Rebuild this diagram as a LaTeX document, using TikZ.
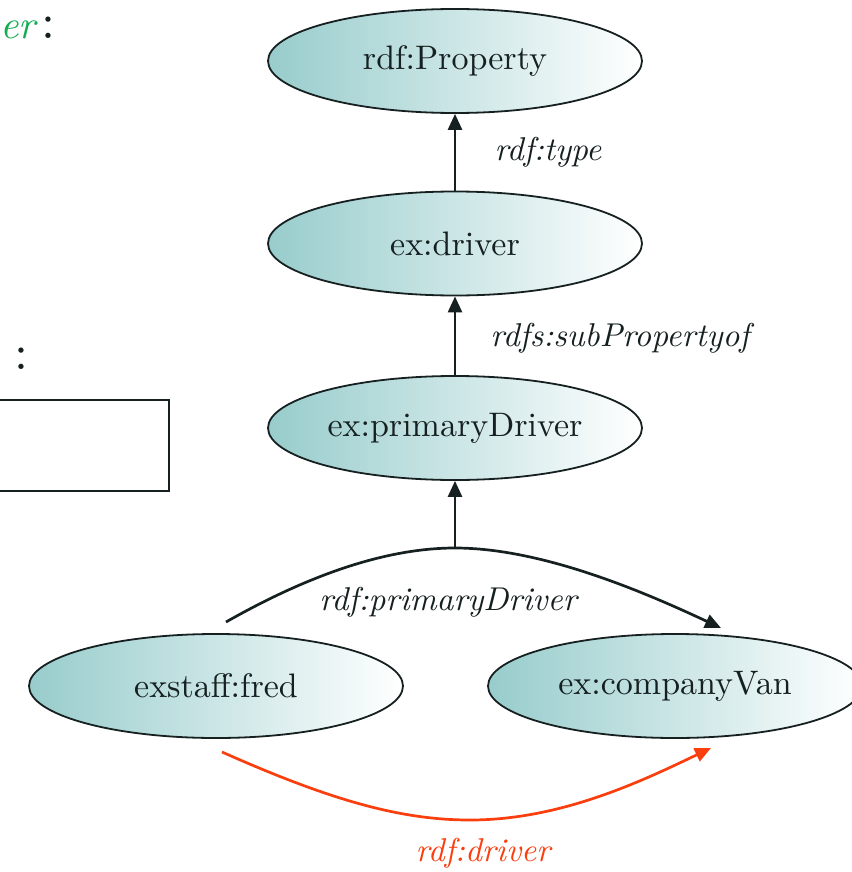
\documentclass[tikz,border=0pt]{standalone}
\usepackage{fontspec}
\setmainfont{lmroman10}[Extension=.otf, UprightFont=*-regular, ItalicFont=*-italic, BoldFont=*-bold, BoldItalicFont=*-bolditalic]
\usetikzlibrary{shapes.geometric,arrows.meta}
\definecolor{teal0}{RGB}{152,204,204}
\definecolor{ink}{RGB}{22,32,32}
\definecolor{redline}{RGB}{250,62,14}
\definecolor{greentxt}{RGB}{22,172,82}
\tikzset{
  res/.style={ellipse, draw=ink, line width=1.8pt, left color=teal0, right color=white,
    minimum width=374pt, minimum height=104pt, inner sep=0pt, text=ink,
    font=\fontsize{34}{40}\selectfont},
  arr/.style={draw=ink, line width=2.7pt, -{Triangle[length=16pt,width=14pt]}},
  redarr/.style={draw=redline, line width=2.7pt, -{Triangle[length=16pt,width=14pt]}},
  lbl/.style={text=ink, font=\fontsize{33}{40}\selectfont\itshape, inner sep=0pt},
  big/.style={font=\fontsize{40}{48}\selectfont, inner sep=0pt},
  colon/.style={font=\fontsize{50}{56}\selectfont, inner sep=0pt, text=ink}
}
\begin{document}
\begin{tikzpicture}[x=1pt,y=-1pt]
\useasboundingbox (0,0) rectangle (851,872);

% left-hand fragments
\node[big, text=greentxt, anchor=base west] (gtxt) at (0,39) {\itshape er};
\node[colon, anchor=base] (col1) at (48,39) {:};
\node[colon, anchor=base] (col2) at (21,369) {:};
\draw[ink, line width=1.6pt] (-5,400) rectangle (169,491);

% resources
\node[res] (prop) at (455,61) {rdf:Property};
\node[res] (dr) at (455,243.5) {ex:driver};
\node[res] (pd) at (455,428) {ex:primaryDriver};
\node[res] (fred) at (216,686) {exstaff:fred};
\node[res] (van) at (675,686) {ex:companyVan};

% vertical arrows
\draw[arr] (dr) -- (prop);
\node[lbl] (l1) at (548,152) {rdf:type};
\draw[arr] (pd) -- (dr);
\node[lbl] (l2) at (620,338) {rdfs:subPropertyof};

% reified primaryDriver arc
\coordinate (peak) at (455,548);
\coordinate (a1) at (226,622);
\coordinate (a2) at (721,628);
\draw[arr] (peak) -- (pd);
\draw[arr] (a1) .. controls (300,580) and (380,548) .. (peak)
  .. controls (540,548) and (640,590) .. (a2);
\node[lbl] (l3) at (448,602) {rdf:primaryDriver};

% red inferred driver arc
\coordinate (r1) at (222,752);
\coordinate (rm) at (470,820);
\coordinate (r2) at (711,748);
\draw[redarr] (r1) .. controls (330,800) and (400,820) .. (rm)
  .. controls (560,820) and (640,782) .. (r2);
\node[lbl, text=redline] (l4) at (483,853) {rdf:driver};
\end{tikzpicture}
\end{document}
